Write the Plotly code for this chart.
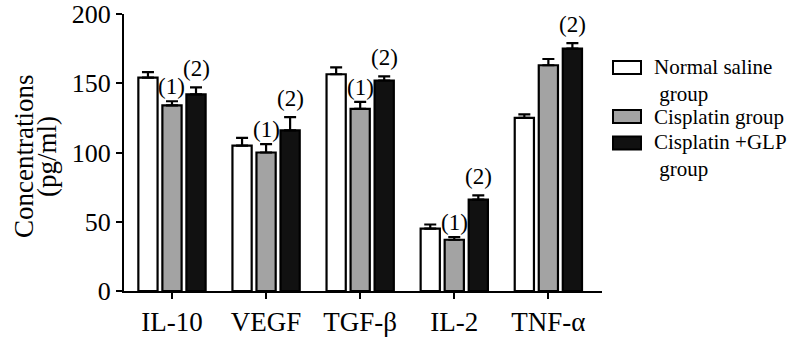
import plotly.graph_objects as go

categories = ["IL-10", "VEGF", "TGF-β", "IL-2", "TNF-α"]
series_names = ["Normal saline<br> group", "Cisplatin group", "Cisplatin +GLP<br> group"]
normal_vals = [154, 105, 156.5, 45, 125]
normal_err = [4, 5.5, 5, 3, 2.5]
cis_vals = [134, 100, 131.5, 37, 163]
cis_err = [3, 6, 5, 2, 4.5]
glp_vals = [142, 116, 152, 66, 175]
glp_err = [5, 9.5, 3, 3, 4]
cis_marks = ["(1)", "(1)", "(1)", "(1)", ""]
glp_marks = ["(2)", "(2)", "(2)", "(2)", "(2)"]
y_title_lines = ["Concentrations", "(pg/ml)"]

FONT = "Liberation Serif"
fills = ["#ffffff", "#a3a3a3", "#111111"]
bargap = 0.234

fig = go.Figure()
for name, vals, errs, col in zip(series_names, [normal_vals, cis_vals, glp_vals],
                                 [normal_err, cis_err, glp_err], fills):
    fig.add_trace(go.Bar(
        x=categories, y=vals, name=name,
        marker=dict(color=col, line=dict(color="black", width=2.2)),
        error_y=dict(type="data", array=errs, arrayminus=[0] * len(errs), symmetric=False,
                     color="black", thickness=2.2, width=6),
        showlegend=False,
    ))

slot = (1 - bargap) / 3
annos = []
for i in range(len(categories)):
    if cis_marks[i]:
        annos.append(dict(x=i, y=cis_vals[i] + cis_err[i], text=cis_marks[i],
                          showarrow=False, yanchor="bottom", yshift=0,
                          font=dict(family=FONT, size=23, color="black")))
    if glp_marks[i]:
        annos.append(dict(x=i + slot, y=glp_vals[i] + glp_err[i], text=glp_marks[i],
                          showarrow=False, yanchor="bottom", yshift=4,
                          font=dict(family=FONT, size=23, color="black")))

L, R, T, B = 124, 602, 14, 291

# y-axis title as two rotated text lines
for txt, px in zip(y_title_lines, [24, 47]):
    annos.append(dict(xref="paper", yref="paper", x=(px - L) / (R - L), y=(B - 157) / (B - T),
                      xanchor="center", yanchor="middle", textangle=-90, showarrow=False,
                      text=txt, font=dict(family=FONT, size=27, color="black")))

# legend drawn manually to match the large legend boxes
shapes = []
leg_box_y = [67.5, 116.5, 143]
leg_text_y = [80, 117, 155]
for txt, col, by, ty in zip(series_names, fills, leg_box_y, leg_text_y):
    shapes.append(dict(type="rect", xref="paper", yref="paper",
                       x0=(613 - L) / (R - L), x1=(641 - L) / (R - L),
                       y0=(B - (by + 6.5)) / (B - T), y1=(B - (by - 6.5)) / (B - T),
                       fillcolor=col, line=dict(color="black", width=2)))
    annos.append(dict(xref="paper", yref="paper", x=(652 - L) / (R - L), y=(B - ty) / (B - T),
                      xanchor="left", yanchor="middle", align="left", showarrow=False,
                      text=txt, font=dict(family=FONT, size=21, color="black")))

fig.update_layout(
    width=800, height=350,
    margin=dict(l=L, r=800 - R, t=T, b=350 - B),
    paper_bgcolor="white", plot_bgcolor="white",
    barmode="group", bargap=bargap, bargroupgap=0.2,
    font=dict(family=FONT, size=26, color="black"),
    annotations=annos, shapes=shapes,
    xaxis=dict(range=[-0.51, 4.57], showline=True, linecolor="black", linewidth=2,
               ticks="outside", ticklen=6, tickwidth=2, tickcolor="black",
               showgrid=False, tickfont=dict(size=27), automargin=False),
    yaxis=dict(range=[0, 200], tickvals=[0, 50, 100, 150, 200], showline=True,
               linecolor="black", linewidth=2, ticks="outside", ticklen=6, tickwidth=2,
               tickcolor="black", showgrid=False, zeroline=False, tickfont=dict(size=26),
               automargin=False),
)

fig.write_html("out.html")
